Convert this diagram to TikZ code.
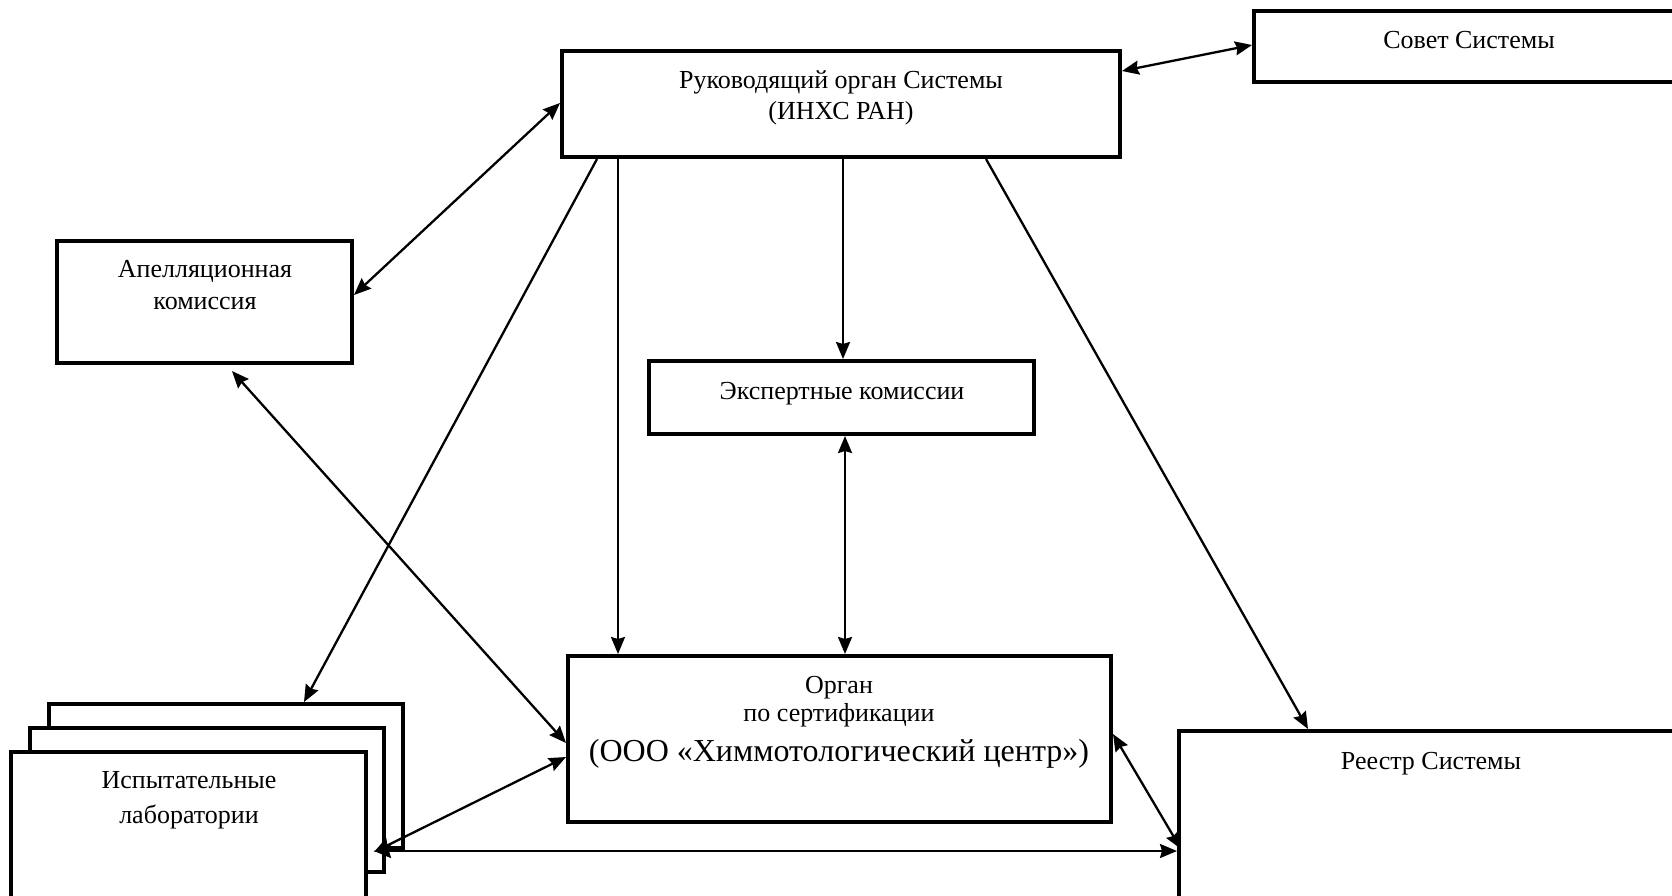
\documentclass[tikz,border=0pt]{standalone}
\usepackage{fontspec}
\setmainfont{Liberation Serif}
\usetikzlibrary{arrows.meta,calc}
\begin{document}
\begin{tikzpicture}[x=1pt,y=-1pt,
  box/.style={draw=black, line width=4pt, fill=white, inner sep=0pt, outer sep=0pt, anchor=north west},
  conn/.style={line width=2.3pt, draw=black},
  >={Stealth[length=17pt,width=14pt,inset=2pt]},
  lbl/.style={anchor=base, inner sep=0pt, font=\fontsize{26}{30}\selectfont},
  big/.style={anchor=base, inner sep=0pt, font=\fontsize{32}{36}\selectfont}]
\useasboundingbox (0,0) rectangle (1672,895);
\fill[white] (0,0) rectangle (1672,895);
% boxes
\node[box, minimum width=426pt, minimum height=71pt] (sovet) at (1254,11) {};
\node[box, minimum width=558pt, minimum height=106pt] (rukov) at (562,51) {};
\node[box, minimum width=295pt, minimum height=122pt] (apel) at (57,241) {};
\node[box, minimum width=385pt, minimum height=73pt] (expert) at (649,361) {};
\node[box, minimum width=543pt, minimum height=166pt] (organ) at (568,656) {};
\node[box, minimum width=520pt, minimum height=200pt] (reestr) at (1179,731) {};
\node[box, minimum width=354pt, minimum height=144pt] (lab3) at (49,704) {};
\node[box, minimum width=354pt, minimum height=144pt] (lab2) at (30,728) {};
\node[box, minimum width=355pt, minimum height=160pt] (lab1) at (11,752) {};
% texts
\node[lbl] (tsovet) at (1469,48) {Совет Системы};
\node[lbl] (trukov1) at (841,88) {Руководящий орган Системы};
\node[lbl] (trukov2) at (841,119) {(ИНХС РАН)};
\node[lbl] (tapel1) at (205,277) {Апелляционная};
\node[lbl] (tapel2) at (205,309) {комиссия};
\node[lbl] (texpert) at (842,399) {Экспертные комиссии};
\node[lbl] (torgan1) at (839,693) {Орган};
\node[lbl] (torgan2) at (839,721) {по сертификации};
\node[big] (torgan3) at (839,761) {(ООО «Химмотологический центр»)};
\node[lbl] (treestr) at (1431,769) {Реестр Системы};
\node[lbl] (tlab1) at (189,788) {Испытательные};
\node[lbl] (tlab2) at (189,823) {лаборатории};
% connectors
\draw[conn,<->] ($(rukov.north east)+(2,20)$) -- ($(sovet.north west)+(-2,34)$);
\draw[conn,<->] ($(rukov.north west)+(-2,52)$) -- ($(apel.north east)+(2,54)$);
\draw[conn,->] ($(rukov.south west)+(35,2)$) -- ($(lab3.north west)+(255,-2)$);
\draw[conn,->] ($(rukov.south west)+(56,2)$) -- ($(organ.north west)+(50,-2)$);
\draw[conn,->] ($(rukov.south west)+(281,2)$) -- ($(expert.north west)+(194,-2)$);
\draw[conn,<->] ($(expert.south west)+(196,2)$) -- ($(organ.north west)+(277,-2)$);
\draw[conn,->] ($(rukov.south west)+(424,2)$) -- ($(reestr.north west)+(129,-2)$);
\draw[conn,<->] ($(apel.south west)+(175,8)$) -- ($(organ.north west)+(-2,87)$);
\draw[conn,<->] ($(lab2.south east)+(-10,-20)$) -- ($(organ.north west)+(-2,101)$);
\draw[conn,<->] ($(lab2.south east)+(-10,-21)$) -- ($(reestr.north west)+(-2,120)$);
\draw[conn,<->] ($(organ.north east)+(2,78)$) -- ($(reestr.north west)+(2,118)$);
\end{tikzpicture}
\end{document}
